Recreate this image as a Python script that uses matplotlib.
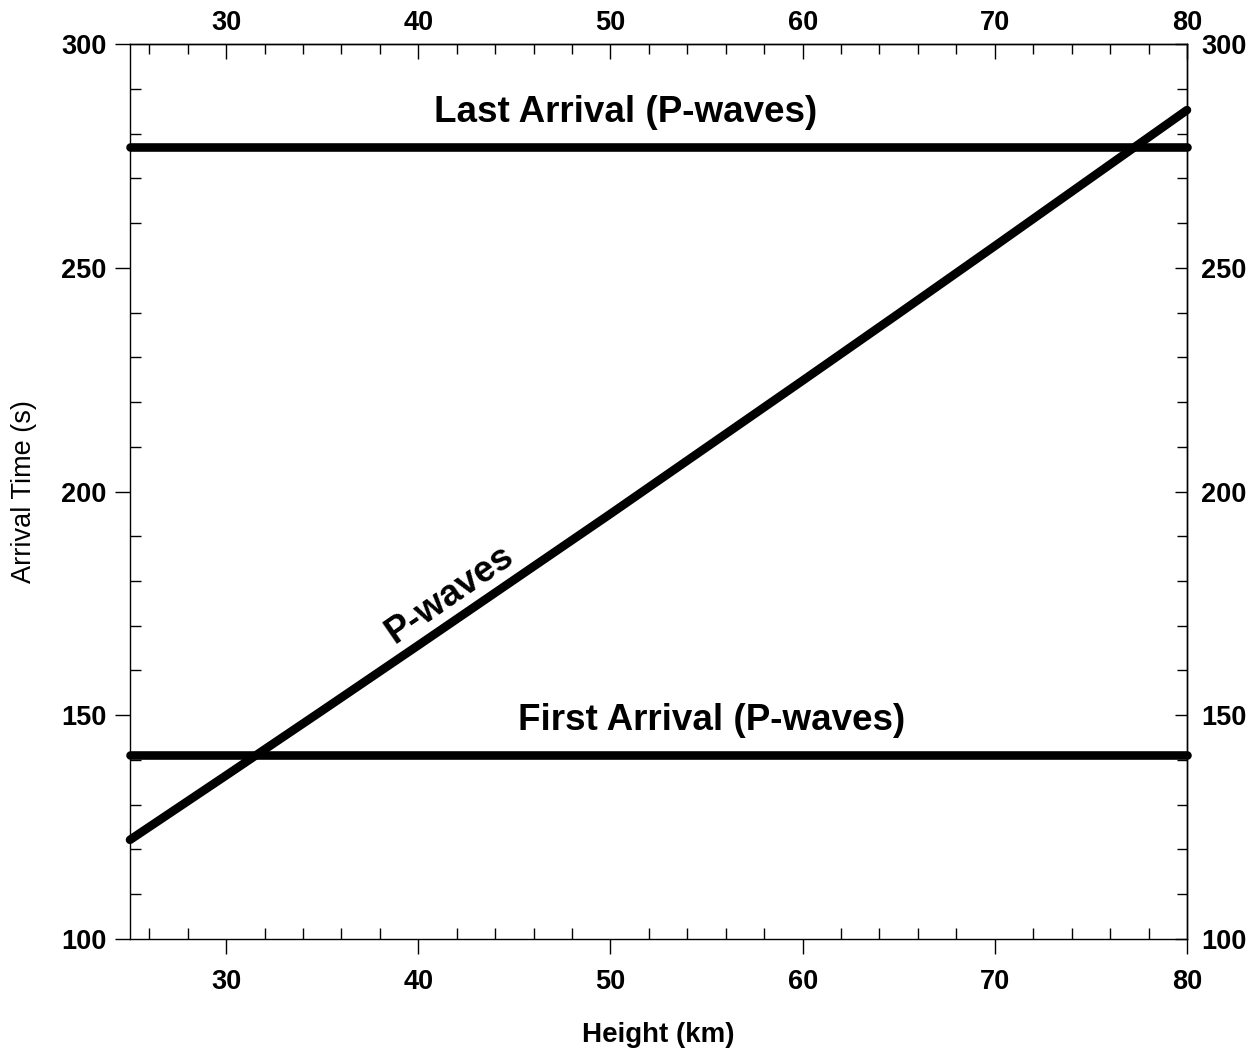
import matplotlib.pyplot as plt
from matplotlib.ticker import MultipleLocator

plt.rcParams['font.family'] = ['Liberation Sans', 'DejaVu Sans']

# Travel time of the P-wave arrival against source height
height_km = [25, 30, 35, 40, 45, 50, 55, 60, 65, 70, 75, 80]
p_arrival_s = [122.1, 136.5, 151.0, 165.6, 180.3, 195.0, 209.9, 224.8, 239.8, 254.9, 270.1, 285.3]

# Window limits
first_arrival_s = 141
last_arrival_s = 277

x_range = (25, 80)
y_range = (100, 300)
x_ticks = [30, 40, 50, 60, 70, 80]
y_ticks = [100, 150, 200, 250, 300]

fig = plt.figure(figsize=(12.55, 10.51), dpi=100)
ax = fig.add_axes([0.1036, 0.1069, 0.8422, 0.8509])

line_kw = dict(color='black', lw=6.2, solid_capstyle='round', clip_on=False, zorder=3)
ax.plot(height_km, p_arrival_s, **line_kw)
ax.plot(x_range, [first_arrival_s] * 2, **line_kw)
ax.plot(x_range, [last_arrival_s] * 2, **line_kw)

label_kw = dict(fontsize=26.5, fontweight='bold')
ax.text(50.8, 282.6, 'Last Arrival (P-waves)', ha='center', va='baseline', **label_kw)
ax.text(55.25, 146.6, 'First Arrival (P-waves)', ha='center', va='baseline', **label_kw)
ax.text(41.65, 176.9, 'P-waves', ha='center', va='center', rotation=34.6, **label_kw)

ax.set_xlim(*x_range)
ax.set_ylim(*y_range)

for sp in ax.spines.values():
    sp.set_linewidth(1.0)

tick_font = dict(labelsize=19.5)

# bottom / left: major ticks outward, minor inward
ax.set_xticks(x_ticks)
ax.set_yticks(y_ticks)
ax.xaxis.set_minor_locator(MultipleLocator(2))
ax.yaxis.set_minor_locator(MultipleLocator(10))
ax.tick_params(axis='x', which='major', direction='out', length=11, width=1, pad=11, top=False, **tick_font)
ax.tick_params(axis='y', which='major', direction='out', length=11, width=1, pad=6, right=False, **tick_font)
ax.tick_params(which='minor', direction='in', length=8, width=1, top=False, right=False)
for t in ax.get_xticklabels() + ax.get_yticklabels():
    t.set_fontweight('bold')

# top / right: all ticks inward
secx = ax.secondary_xaxis('top')
secx.set_xticks(x_ticks)
secx.xaxis.set_minor_locator(MultipleLocator(2))
secx.tick_params(which='major', direction='in', length=11, width=1, pad=6, **tick_font)
secx.tick_params(which='minor', direction='in', length=7, width=1)
secx.spines['top'].set_linewidth(1.0)

secy = ax.secondary_yaxis('right')
secy.set_yticks(y_ticks)
secy.yaxis.set_minor_locator(MultipleLocator(10))
secy.tick_params(which='major', direction='in', length=9, width=1, pad=10, **tick_font)
secy.tick_params(which='minor', direction='in', length=7, width=1)
secy.spines['right'].set_linewidth(1.0)

for t in secx.get_xticklabels() + secy.get_yticklabels():
    t.set_fontweight('bold')

ax.set_xlabel('Height (km)', fontsize=20, fontweight='bold', labelpad=19)
ax.set_ylabel('Arrival Time (s)', fontsize=19.5, labelpad=17)

fig.savefig('out.png', dpi=100)
